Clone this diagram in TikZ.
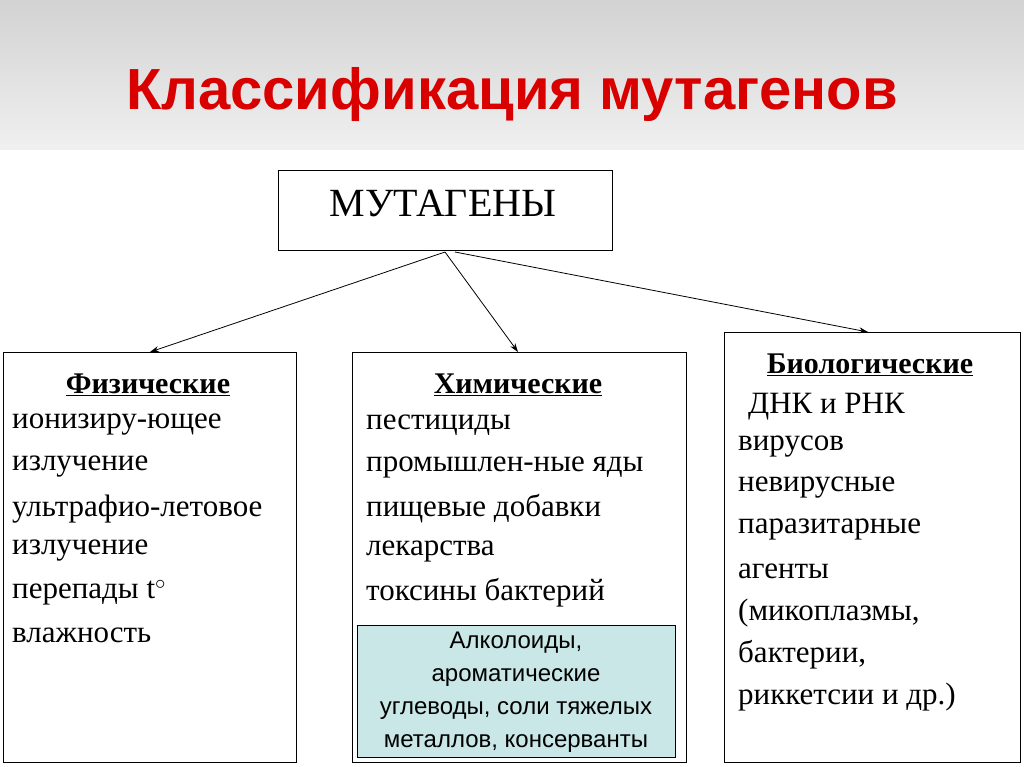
\documentclass[tikz,border=0pt]{standalone}
\usepackage{fontspec}
\setmainfont{Liberation Serif}
\newfontfamily\arialf{Liberation Sans}
\usetikzlibrary{arrows.meta}
\definecolor{lb}{HTML}{C9E7E7}
\begin{document}
\begin{tikzpicture}[x=1pt,y=-1pt,
  box/.style={draw=black,line width=0.8pt},
  txt/.style={anchor=west,inner sep=0pt,font=\fontsize{31}{33}\selectfont},
  head/.style={inner sep=0pt,font=\fontsize{30}{32}\selectfont\bfseries},
  arr/.style={-{Stealth[length=9pt,width=6pt]},line width=0.8pt}]
\useasboundingbox (0,0) rectangle (1024,767);
\fill[white] (0,0) rectangle (1024,767);
\shade[top color=gray!35,bottom color=gray!12] (0,0) rectangle (1024,150);
\node[font=\arialf\fontsize{58}{60}\selectfont\bfseries,text=red!85!black,inner sep=0pt] (title) at (512,95) {Классификация мутагенов};
\node[box,minimum width=334pt,minimum height=80pt] (mut) at (445,210) {};
\node[font=\fontsize{40}{42}\selectfont] at (443,203) {МУТАГЕНЫ};
\node[box,minimum width=293pt,minimum height=410pt] (phys) at (149.5,557) {};
\node[box,minimum width=334pt,minimum height=410pt] (chem) at (519,557) {};
\node[box,minimum width=296pt,minimum height=430pt] (bio) at (872,547) {};
\coordinate (s1) at (445,252);
\coordinate (s2) at (455,252);
\draw[arr] (s1) -- (150,352);
\draw[arr] (s1) -- (518,352);
\draw[arr] (s2) -- (868,332);
\node[head] at (148,385) {\underline{Физические}};
\node[txt] at (12,425) {ионизиру-ющее};
\node[txt] at (12,467) {излучение};
\node[txt] at (12,509) {ультрафио-летовое};
\node[txt] at (12,551) {излучение};
\node[txt] at (12,593) {перепады t$^\circ$};
\node[txt] at (12,635) {влажность};
\node[head] at (518,385) {\underline{Химические}};
\node[txt] at (366,425) {пестициды};
\node[txt] at (366,467) {промышлен-ные яды};
\node[txt] at (366,509) {пищевые добавки};
\node[txt] at (366,551) {лекарства};
\node[txt] at (366,593) {токсины бактерий};
\node[draw=black,fill=lb,minimum width=318pt,minimum height=132pt] (blue) at (516,691) {};
\node[font=\arialf\fontsize{24}{33}\selectfont,align=center] at (516,692) {Алколоиды,\\ароматические\\углеводы, соли тяжелых\\металлов, консерванты};
\node[head] at (870,365) {\underline{Биологические}};
\node[txt] at (748,407) {ДНК и РНК};
\node[txt] at (738,447) {вирусов};
\node[txt] at (738,488) {невирусные};
\node[txt] at (738,529) {паразитарные};
\node[txt] at (738,571) {агенты};
\node[txt] at (738,613) {(микоплазмы,};
\node[txt] at (738,655) {бактерии,};
\node[txt] at (738,697) {риккетсии и др.)};
\end{tikzpicture}
\end{document}
